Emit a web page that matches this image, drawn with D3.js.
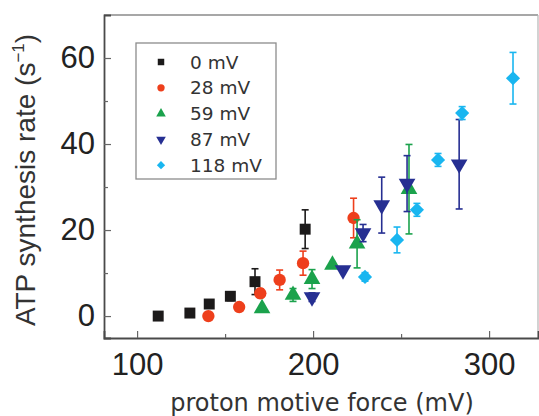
<!DOCTYPE html>
<html><head><meta charset="utf-8">
<script src="https://cdn.jsdelivr.net/npm/d3@7"></script>
<style>html,body{margin:0;padding:0;background:#fff;}svg{display:block;}</style>
</head><body>
<svg id="c" width="539" height="416"></svg>
<script>
// ---- data ----
const seriesNames = ["0 mV", "28 mV", "59 mV", "87 mV", "118 mV"];
const pmf0 = [112, 130, 141, 153, 167, 195.5];
const rate0 = [0, 0.7, 2.8, 4.6, 8, 20.2];
const err0 = [0, 0, 0, 1, 3, 4.5];
const pmf28 = [140.5, 158, 170, 181, 194.3, 223];
const rate28 = [0, 2.1, 5.3, 8.4, 12.3, 22.8];
const err28 = [0, 0, 1, 2.3, 2.8, 4.6];
const pmf59 = [171, 188.6, 199.4, 211, 225, 254.5];
const rate59 = [1.8, 4.9, 8.6, 11.9, 16.8, 29.5];
const err59 = [0, 1.5, 2.2, 0, 5.6, 10.4];
const pmf87 = [199.4, 217, 228.4, 239, 253.4, 283];
const rate87 = [4.4, 10.7, 19.3, 25.8, 30.8, 35.3];
const err87 = [1, 0, 2, 6.5, 6.5, 10.4];
const pmf118 = [229.5, 247.7, 259, 271, 284.7, 313.6];
const rate118 = [9.1, 17.7, 24.7, 36.3, 47.2, 55.3];
const err118 = [1, 3, 1.5, 1.5, 1.5, 6];
const xTicks = [100, 200, 300];
const xMinor = [150, 250];
const yTicks = [0, 20, 40, 60];
const yMinor = [10, 30, 50];

const series = [
  {name: seriesNames[0], x: pmf0, y: rate0, e: err0, color: "#1c1a1a", sym: d3.symbolSquare, size: 120, lsize: 42, rot: 0},
  {name: seriesNames[1], x: pmf28, y: rate28, e: err28, color: "#ee3f1c", sym: d3.symbolCircle, size: 120, lsize: 42, rot: 0},
  {name: seriesNames[2], x: pmf59, y: rate59, e: err59, color: "#1ba24c", sym: d3.symbolTriangle, size: 120, lsize: 40, rot: 0},
  {name: seriesNames[3], x: pmf87, y: rate87, e: err87, color: "#262f92", sym: d3.symbolTriangle, size: 120, lsize: 40, rot: 180},
  {name: seriesNames[4], x: pmf118, y: rate118, e: err118, color: "#19b6f0", sym: d3.symbolSquare, size: 100, lsize: 34, rot: 45}
];

const svg = d3.select("#c");
const L = 104, R = 538, T = 15, B = 338;
const x = d3.scaleLinear().domain([81.2, 327.8]).range([L, R]);
const y = d3.scaleLinear().domain([-5.1, 70]).range([B, T]);

// frame
svg.append("line").attr("x1", L).attr("x2", R).attr("y1", T).attr("y2", T).attr("stroke", "#8a8a8a").attr("stroke-width", 1.6);
svg.append("line").attr("x1", R).attr("x2", R).attr("y1", T).attr("y2", B).attr("stroke", "#b5b5b5").attr("stroke-width", 1.2);

// axes with inward ticks
const xAxis = svg.append("g").attr("transform", `translate(0,${B})`)
  .call(d3.axisBottom(x).tickValues(xTicks).tickSize(-7).tickPadding(15).tickFormat(d3.format("d")));
svg.append("g").attr("transform", `translate(0,${B})`)
  .call(d3.axisBottom(x).tickValues(xMinor).tickSize(-4).tickFormat(""))
  .call(g => g.select(".domain").remove());
const yAxis = svg.append("g").attr("transform", `translate(${L},0)`)
  .call(d3.axisLeft(y).tickValues(yTicks).tickSize(-7).tickPadding(9).tickFormat(d3.format("d")));
svg.append("g").attr("transform", `translate(${L},0)`)
  .call(d3.axisLeft(y).tickValues(yMinor).tickSize(-4).tickFormat(""))
  .call(g => g.select(".domain").remove());
svg.selectAll(".domain").attr("stroke", "#4a4a4a").attr("stroke-width", 1.8);
svg.selectAll(".tick line").attr("stroke", "#666").attr("stroke-width", 1.2);
svg.selectAll(".tick text").attr("fill", "#222").style("font-family", "'Liberation Sans', Arial, sans-serif").style("font-size", "31px");
xAxis.selectAll(".tick text").attr("dy", "0.71em");

// axis titles
svg.append("text").attr("x", 322).attr("y", 411).attr("text-anchor", "middle")
  .attr("fill", "#333").style("font-family", "'DejaVu Sans', sans-serif").style("font-size", "24px")
  .text("proton motive force (mV)");
const yt = svg.append("text").attr("transform", "translate(35,180) rotate(-90)").attr("text-anchor", "middle")
  .attr("fill", "#333").style("font-family", "'Liberation Sans', Arial, sans-serif").style("font-size", "28px");
yt.append("tspan").text("ATP synthesis rate (s");
yt.append("tspan").attr("dy", -11).style("font-size", "17px").text("\u22121");
yt.append("tspan").attr("dy", 11).text(")");

// data
const plot = svg.append("g");
series.forEach(s => {
  const pts = s.x.map((v, i) => ({x: v, y: s.y[i], e: s.e[i]}));
  const g = plot.append("g");
  const eb = g.selectAll(".eb").data(pts.filter(p => p.e > 0)).enter().append("g").attr("stroke", s.color).attr("stroke-width", 1.6);
  eb.append("line").attr("x1", p => x(p.x)).attr("x2", p => x(p.x)).attr("y1", p => y(p.y - p.e)).attr("y2", p => y(p.y + p.e));
  eb.append("line").attr("x1", p => x(p.x) - 3.5).attr("x2", p => x(p.x) + 3.5).attr("y1", p => y(p.y + p.e)).attr("y2", p => y(p.y + p.e));
  eb.append("line").attr("x1", p => x(p.x) - 3.5).attr("x2", p => x(p.x) + 3.5).attr("y1", p => y(p.y - p.e)).attr("y2", p => y(p.y - p.e));
  g.selectAll(".m").data(pts).enter().append("path")
    .attr("d", d3.symbol().type(s.sym).size(s.size))
    .attr("transform", p => `translate(${x(p.x)},${y(p.y)}) rotate(${s.rot})`)
    .attr("fill", s.color);
});

// legend
const lg = svg.append("g");
lg.append("rect").attr("x", 136).attr("y", 43).attr("width", 140).attr("height", 136)
  .attr("fill", "#fff").attr("stroke", "#8c8c8c").attr("stroke-width", 1.3);
series.forEach((s, i) => {
  const yy = 62 + i * 25.8;
  lg.append("path").attr("d", d3.symbol().type(s.sym).size(s.lsize))
    .attr("transform", `translate(161,${yy}) rotate(${s.rot})`).attr("fill", s.color);
  lg.append("text").attr("x", 190).attr("y", yy).attr("dy", "0.36em")
    .attr("fill", "#333").style("font-family", "'DejaVu Sans', sans-serif").style("font-size", "18.5px")
    .text(s.name);
});
</script>
</body></html>
